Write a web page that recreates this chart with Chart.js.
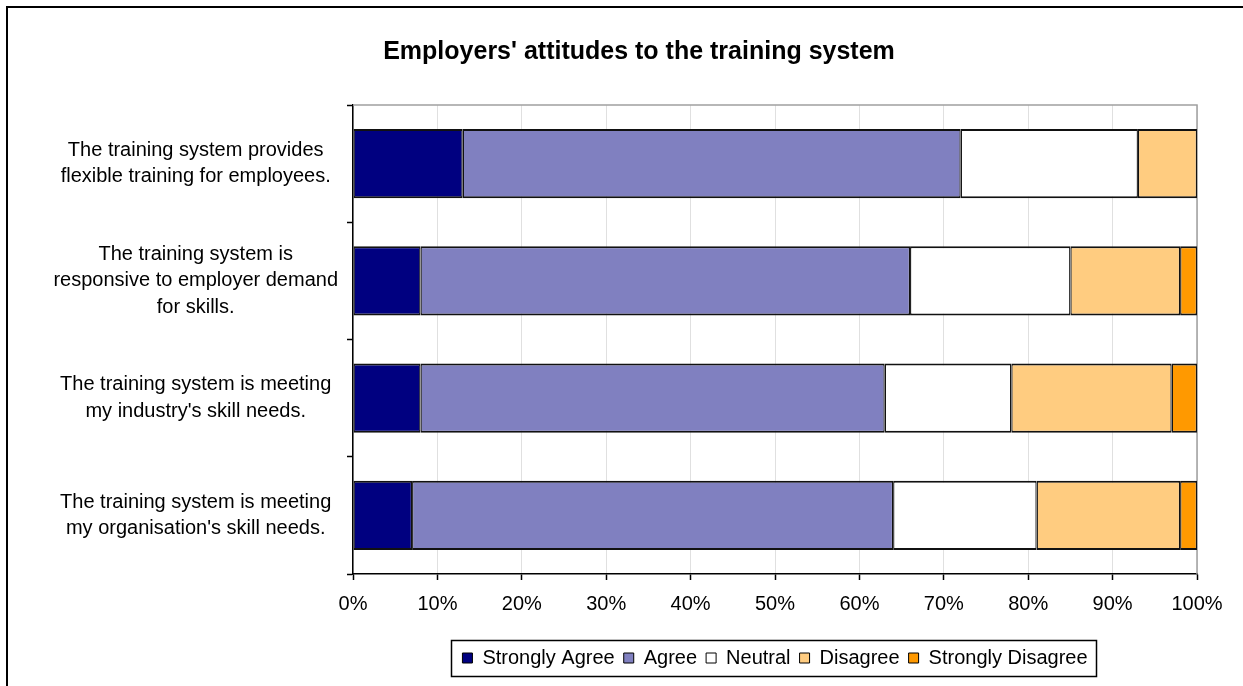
<!DOCTYPE html>
<html>
<head>
<meta charset="utf-8">
<title>Employers' attitudes to the training system</title>
<script src="https://cdn.jsdelivr.net/npm/chart.js@4.4.1/dist/chart.umd.min.js"></script>
<style>
  html, body { margin: 0; padding: 0; background: #ffffff; }
  canvas { display: block; }
</style>
</head>
<body>
<canvas id="attitudes" width="1243" height="686"></canvas>
<script>
// Survey statements (one horizontal bar each, top to bottom)
const statements = [
  ['The training system provides', 'flexible training for employees.'],
  ['The training system is', 'responsive to employer demand', 'for skills.'],
  ['The training system is meeting', "my industry's skill needs."],
  ['The training system is meeting', "my organisation's skill needs."]
];

// Response shares, percent of employers
const stronglyAgree    = [13, 8, 8, 7];
const agree            = [59, 58, 55, 57];
const neutral          = [21, 19, 15, 17];
const disagree         = [7, 13, 19, 17];
const stronglyDisagree = [0, 2, 3, 2];

const responseNames  = ['Strongly Agree', 'Agree', 'Neutral', 'Disagree', 'Strongly Disagree'];
const responseColors = ['#000080', '#8080C0', '#FFFFFF', '#FFCC80', '#FF9900'];

// Percentage axis
const percentMin  = 0;
const percentMax  = 100;
const percentStep = 10;

const chartTitle = "Employers' attitudes to the training system";
const FONT = "'Liberation Sans', Arial, Helvetica, sans-serif";

Chart.defaults.font.family = FONT;
Chart.defaults.color = '#000000';

const seriesValues = [stronglyAgree, agree, neutral, disagree, stronglyDisagree];

const datasets = responseNames.map((name, i) => ({
  label: name,
  data: seriesValues[i],
  backgroundColor: responseColors[i],
  borderColor: '#111111',
  borderWidth: { top: 2, bottom: 2, left: 1.3, right: 1.3 },
  borderSkipped: false,
  categoryPercentage: 1.0,
  barPercentage: 0.59
}));

// Outer frame, heading, plot-area outline and the boxed legend
const decorations = {
  id: 'decorations',
  beforeDraw(chart) {
    const ctx = chart.ctx;
    ctx.save();
    ctx.fillStyle = '#ffffff';
    ctx.fillRect(0, 0, chart.width, chart.height);
    ctx.strokeStyle = '#000000';
    ctx.lineWidth = 2;
    ctx.beginPath();
    ctx.moveTo(7, chart.height + 4);
    ctx.lineTo(7, 7);
    ctx.lineTo(chart.width + 4, 7);
    ctx.stroke();

    ctx.fillStyle = '#000000';
    ctx.font = 'bold 25px ' + FONT;
    ctx.textAlign = 'center';
    ctx.textBaseline = 'middle';
    ctx.fillText(chartTitle, 639, 52);
    ctx.restore();
  },
  beforeDatasetsDraw(chart) {
    const { ctx, chartArea: a } = chart;
    ctx.save();
    ctx.strokeStyle = '#a0a0a0';
    ctx.lineWidth = 1.5;
    ctx.beginPath();
    ctx.moveTo(a.left, a.top);
    ctx.lineTo(a.right, a.top);
    ctx.lineTo(a.right, a.bottom);
    ctx.stroke();
    ctx.restore();
  },
  afterDraw(chart) {
    const boxes = chart.legend && chart.legend.legendHitBoxes;
    if (!boxes || !boxes.length) return;
    let l = Infinity, r = -Infinity, t = Infinity, b = -Infinity;
    boxes.forEach(h => {
      l = Math.min(l, h.left);
      r = Math.max(r, h.left + h.width);
      t = Math.min(t, h.top);
      b = Math.max(b, h.top + h.height);
    });
    const ctx = chart.ctx;
    ctx.save();
    ctx.strokeStyle = '#000000';
    ctx.lineWidth = 1.5;
    ctx.strokeRect(Math.round(l - 11) + 0.5, Math.round(t - 8) + 0.5,
                   Math.round(r - l + 20), Math.round(b - t + 16));
    ctx.restore();
  }
};

new Chart(document.getElementById('attitudes'), {
  type: 'bar',
  data: { labels: statements, datasets },
  plugins: [decorations],
  options: {
    indexAxis: 'y',
    responsive: false,
    animation: false,
    layout: { padding: { top: 105, right: 46, bottom: 8, left: 0 } },
    scales: {
      x: {
        stacked: true,
        min: percentMin,
        max: percentMax,
        afterFit(scale) { scale.height = 65; },
        ticks: {
          stepSize: percentStep,
          padding: 12,
          maxRotation: 0,
          font: { size: 20 },
          color: '#000000',
          callback: v => v + '%'
        },
        grid: {
          color: '#e0e0e0',
          lineWidth: 1,
          tickColor: '#000000',
          tickLength: 6,
          tickWidth: 1.5
        },
        border: { color: '#000000', width: 1.5 }
      },
      y: {
        stacked: true,
        afterFit(scale) { scale.width = 353; },
        ticks: {
          crossAlign: 'center',
          padding: 9,
          font: { size: 20, lineHeight: 1.333 },
          color: '#000000'
        },
        grid: {
          offset: true,
          drawOnChartArea: false,
          tickColor: '#000000',
          tickLength: 6,
          tickWidth: 1.5
        },
        border: { color: '#000000', width: 1.5 }
      }
    },
    plugins: {
      title: { display: false },
      tooltip: { enabled: false },
      legend: {
        position: 'bottom',
        fullSize: false,
        align: 'center',
        labels: {
          boxWidth: 10,
          boxHeight: 10,
          padding: 9,
          color: '#000000',
          font: { size: 20 },
          generateLabels(chart) {
            return chart.data.datasets.map((ds, i) => ({
              text: ds.label,
              fillStyle: ds.backgroundColor,
              strokeStyle: '#000000',
              lineWidth: 1,
              hidden: false,
              datasetIndex: i
            }));
          }
        }
      }
    }
  }
});
</script>
</body>
</html>
